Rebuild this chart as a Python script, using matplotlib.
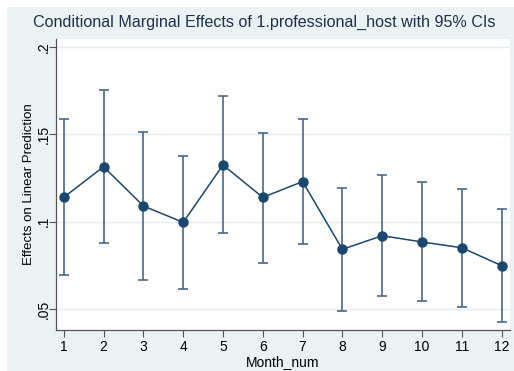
import matplotlib
matplotlib.use("Agg")
import matplotlib.pyplot as plt

# marginal effects
months = [1, 2, 3, 4, 5, 6, 7, 8, 9, 10, 11, 12]
effect = [0.1139, 0.1314, 0.1090, 0.0996, 0.1324, 0.1139,
          0.1229, 0.0842, 0.0920, 0.0884, 0.0851, 0.0749]
ci_upper = [0.1585, 0.1754, 0.1514, 0.1375, 0.1718, 0.1509,
            0.1585, 0.1194, 0.1267, 0.1227, 0.1187, 0.1071]
ci_lower = [0.0695, 0.0877, 0.0665, 0.0615, 0.0934, 0.0766,
            0.0873, 0.0491, 0.0575, 0.0545, 0.0514, 0.0425]
yticks = [0.05, 0.1, 0.15, 0.2]
ytick_labels = [".05", ".1", ".15", ".2"]

navy = "#1a476f"
ci_col = "#46698c"
bg = "#eaf2f3"

plt.rcParams['font.family'] = ['Liberation Sans', 'DejaVu Sans']

W, H = 514, 371
fig = plt.figure(figsize=(W / 100, H / 100), dpi=100)
fig.patch.set_facecolor("white")

# stata-like graph region behind the plot
bgax = fig.add_axes([7 / W, 0, 1 - 7 / W, 1 - 7 / H], zorder=0)
bgax.set_facecolor(bg)
bgax.set_xticks([])
bgax.set_yticks([])
for s in bgax.spines.values():
    s.set_visible(False)

ax = fig.add_axes([56 / W, 1 - 330 / H, (510 - 56) / W, (330 - 39) / H], zorder=1)
ax.set_facecolor("white")

yerr = [[e - l for e, l in zip(effect, ci_lower)],
        [u - e for e, u in zip(effect, ci_upper)]]
ax.errorbar(months, effect, yerr=yerr, fmt="none", ecolor=ci_col,
            elinewidth=1.2, capsize=3.5, capthick=1.2, zorder=2)
ax.plot(months, effect, color=navy, lw=1.1, marker="o", ms=6.5,
        markerfacecolor=navy, markeredgecolor=navy, zorder=3)

ax.set_xlim(0.806, 12.21)
ax.set_ylim(0.0381, 0.2044)
ax.set_xticks(months)
ax.set_yticks(yticks)
ax.set_yticklabels(ytick_labels, rotation=90, va="center")
ax.grid(axis="y", color="#e4ecee", lw=1)
ax.set_axisbelow(True)

for s in ["top", "right"]:
    ax.spines[s].set_visible(False)
for s in ["left", "bottom"]:
    ax.spines[s].set_color("#555555")
    ax.spines[s].set_linewidth(0.9)
ax.tick_params(direction="out", length=5, width=0.8, color="#555555",
               labelsize=10, labelcolor="black")
ax.tick_params(axis="x", pad=2)
ax.tick_params(axis="y", pad=-1)

ax.set_xlabel("Month_num", fontsize=10, labelpad=1)
ax.set_ylabel("Effects on Linear Prediction", fontsize=9.5)
ax.yaxis.set_label_coords(-0.047, 0.5)
fig.text(264 / W, 1 - 22 / H,
         "Conditional Marginal Effects of 1.professional_host with 95% CIs",
         ha="center", va="center", fontsize=11.6, color="#1e3050")

fig.savefig("out.png", dpi=100)
